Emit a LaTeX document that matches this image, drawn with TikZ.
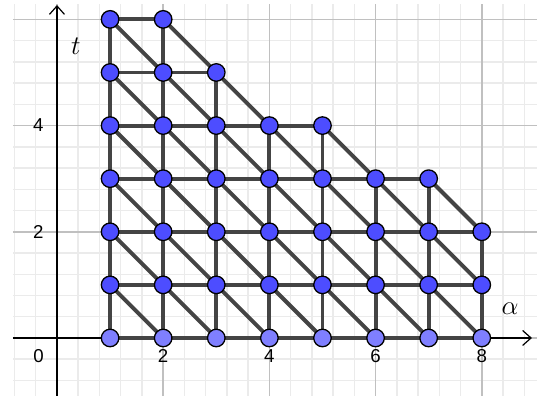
\documentclass[tikz,border=0pt]{standalone}
\usepackage{fontspec}
\setmainfont{Liberation Sans}
\usetikzlibrary{arrows.meta,backgrounds}
\definecolor{edgegray}{HTML}{444444}
\definecolor{ptblue}{HTML}{4D4DFF}
\definecolor{ptlightblue}{HTML}{7F7FFF}
\definecolor{majorgrid}{HTML}{C0C0C0}
\definecolor{minorgrid}{HTML}{EBEBEB}
\begin{document}
\begin{tikzpicture}[x=1cm,y=1cm,
  pt/.style={circle,draw=black,line width=0.7pt,fill=ptblue,inner sep=0pt,minimum size=0.33cm},
  ptl/.style={pt,fill=ptlightblue},
  edge/.style={draw=edgegray,line width=2.1pt},
  axis/.style={draw=black,line width=0.65pt,-{Straight Barb[length=4.5pt,width=8pt]}},
  ticklab/.style={font=\fontsize{10}{12}\selectfont},
  varlab/.style={font=\fontsize{15}{17}\selectfont}]
\useasboundingbox (-1.073,-1.092) rectangle (9.04,6.365);
% points
\foreach \x in {1,...,8} { \node[ptl] (p\x-0) at (\x,0) {}; }
\foreach \x/\tmax in {1/6,2/6,3/5,4/4,5/4,6/3,7/3,8/2} {
  \foreach \t in {1,...,\tmax} { \node[pt] (p\x-\t) at (\x,\t) {}; }
}
% labels
\node[varlab] (tlab) at (0.358,5.50) {$t$};
\node[varlab] (alab) at (8.531,0.546) {$\alpha$};
\node[ticklab] (lx0) at (-0.345,-0.339) {0};
\node[ticklab] (lx2) at (2,-0.339) {2};
\node[ticklab] (lx4) at (4,-0.339) {4};
\node[ticklab] (lx6) at (6,-0.339) {6};
\node[ticklab] (lx8) at (8,-0.339) {8};
\node[ticklab] (ly2) at (-0.352,2) {2};
\node[ticklab] (ly4) at (-0.352,4) {4};
\begin{scope}[on background layer]
  \draw[minorgrid,line width=0.8pt,step=0.4] (-0.829,-1.092) grid (9.04,6.29);
  \draw[majorgrid,line width=0.9pt,step=2] (-0.829,-1.092) grid (9.04,6.29);
  \coordinate (xs) at (-0.829,0);
  \coordinate (xe) at (8.945,0);
  \coordinate (ys) at (0,-1.092);
  \coordinate (ye) at (0,6.27);
  \draw[axis] (xs) -- (xe);
  \draw[axis] (ys) -- (ye);
  % horizontal edges
  \foreach \t/\xmax in {0/8,1/8,2/8,3/7,4/5,5/3,6/2} {
    \foreach \x in {2,...,\xmax} {
      \pgfmathtruncatemacro\xp{\x-1}
      \draw[edge] (p\xp-\t.center) -- (p\x-\t.center);
    }
  }
  % vertical edges
  \foreach \x/\tmax in {1/6,2/6,3/5,4/4,5/4,6/3,7/3,8/2} {
    \foreach \t in {1,...,\tmax} {
      \pgfmathtruncatemacro\tp{\t-1}
      \draw[edge] (p\x-\tp.center) -- (p\x-\t.center);
    }
  }
  % diagonal edges
  \foreach \x/\tmax in {1/6,2/6,3/5,4/4,5/4,6/3,7/3} {
    \foreach \t in {1,...,\tmax} {
      \pgfmathtruncatemacro\xn{\x+1}
      \pgfmathtruncatemacro\tp{\t-1}
      \draw[edge] (p\x-\t.center) -- (p\xn-\tp.center);
    }
  }
\end{scope}
\end{tikzpicture}
\end{document}
